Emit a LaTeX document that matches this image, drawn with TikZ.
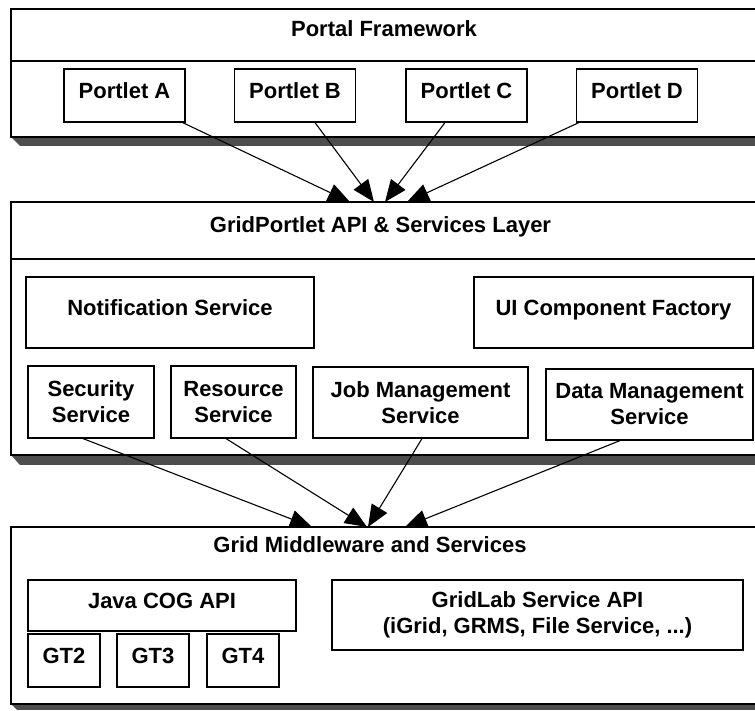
\documentclass[tikz,border=0pt]{standalone}
\usepackage{fontspec}
\setmainfont{Liberation Sans}
\usetikzlibrary{arrows.meta}
\definecolor{shadowgray}{RGB}{77,77,77}

\begin{document}
\begin{tikzpicture}[x=1pt,y=1pt,
    txt/.style={font=\fontsize{22}{26}\selectfont\bfseries,inner sep=0pt},
    box/.style={txt,draw,line width=1.2pt,fill=white,text height=16pt,text depth=10pt},
    box2/.style={txt,draw,line width=1.2pt,fill=white,align=center},
    link/.style={line width=1.1pt,-{Triangle[length=22pt,width=18pt]}}]
    \useasboundingbox (0,0) rectangle (755,711);

    % layers with their shadows
    \fill[shadowgray] (11,574) -- (20,565) -- (770,565) -- (770,574) -- cycle;
    \draw[line width=1.4pt,fill=white] (11,574) rectangle (770,702);
    \draw[line width=1.4pt] (11,650) -- (770,650);
    \fill[shadowgray] (11,256) -- (20,246) -- (770,246) -- (770,256) -- cycle;
    \draw[line width=1.4pt,fill=white] (11,256) rectangle (770,509);
    \draw[line width=1.4pt] (11,452) -- (770,452);
    \fill[shadowgray] (11,7) -- (17,1) -- (770,1) -- (770,7) -- cycle;
    \draw[line width=1.4pt,fill=white] (11,7) rectangle (770,184);

    % titles
    \node (portal) at (384,674) [txt,anchor=base] {Portal Framework};
    \node (api) at (380.5,478) [txt,anchor=base] {GridPortlet API \& Services Layer};
    \node (mw) at (370,158) [txt,anchor=base] {Grid Middleware and Services};

    % portlets
    \node (pa) at (124.5,615.5) [box,minimum width=121pt,minimum height=53pt] {Portlet A};
    \node (pb) at (295,615.5) [box,minimum width=121pt,minimum height=53pt] {Portlet B};
    \node (pc) at (466.5,615.5) [box,minimum width=121pt,minimum height=53pt] {Portlet C};
    \node (pd) at (637,615.5) [box,minimum width=121pt,minimum height=53pt] {Portlet D};

    % services
    \node (notif) at (170,398.5) [box,minimum width=288pt,minimum height=71pt] {Notification Service};
    \node (ui) at (613.5,398.5) [box,minimum width=279pt,minimum height=71pt] {UI Component Factory};
    \node (sec) at (91,309) [box2,minimum width=126pt,minimum height=72pt] {Security\\Service};
    \node (res) at (233.5,309) [box2,minimum width=125pt,minimum height=72pt] {Resource\\Service};
    \node (job) at (420.5,308.5) [box2,minimum width=215pt,minimum height=71pt] {Job Management\\Service};
    \node (data) at (649.5,306.5) [box2,minimum width=207pt,minimum height=71pt] {Data Management\\Service};

    % middleware
    \node (cog) at (162,105.5) [box,minimum width=268pt,minimum height=51pt] {Java COG API};
    \node (gt2) at (64,50.5) [box,minimum width=72pt,minimum height=53pt] {GT2};
    \node (gt3) at (153,50.5) [box,minimum width=72pt,minimum height=53pt] {GT3};
    \node (gt4) at (243,50.5) [box,minimum width=72pt,minimum height=53pt] {GT4};
    \node (glab) at (537.5,96) [box2,minimum width=411pt,minimum height=70pt] {GridLab Service API\\(iGrid, GRMS, File Service, ...)};

    % arrow tips
    \coordinate (ta) at (350,509);
    \coordinate (tb) at (374,509);
    \coordinate (tc) at (385,509);
    \coordinate (td) at (407,509);
    \coordinate (tsec) at (312,184);
    \coordinate (tres) at (367,184);
    \coordinate (tjob) at (368,184);
    \coordinate (tdata) at (405,184);

    \draw[link] ([xshift=-3pt]pa.south east) -- (ta);
    \draw[link] ([xshift=20pt]pb.south) -- (tb);
    \draw[link] ([xshift=-21.5pt]pc.south) -- (tc);
    \draw[link] ([xshift=3pt]pd.south west) -- (td);
    \draw[link] ([xshift=-8pt]sec.south) -- (tsec);
    \draw[link] ([xshift=-7.5pt]res.south) -- (tres);
    \draw[link] ([xshift=1.5pt]job.south) -- (tjob);
    \draw[link] ([xshift=-29.5pt]data.south) -- (tdata);

\end{tikzpicture}
\end{document}
